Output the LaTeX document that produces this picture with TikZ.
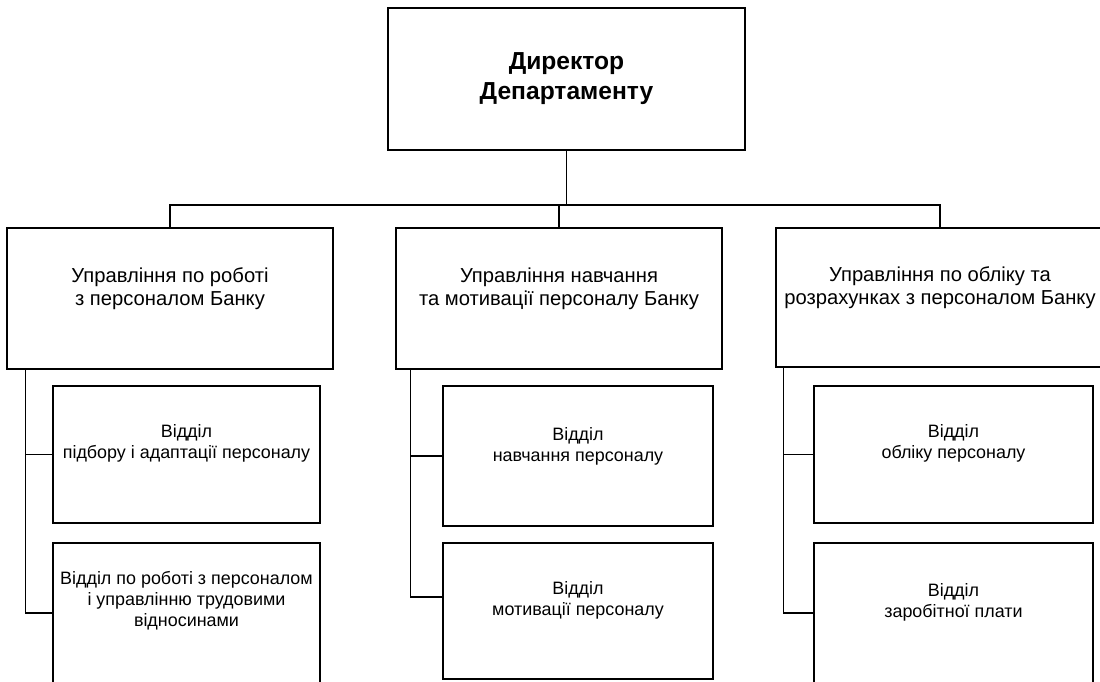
\documentclass[tikz,border=0pt]{standalone}
\usepackage{fontspec}
\setmainfont{Liberation Sans}
\begin{document}
\begin{tikzpicture}[x=0.02cm,y=-0.02cm,
  box/.style={draw,line width=0.75pt,inner sep=0pt},
  big/.style={font=\fontsize{14}{17}\selectfont\bfseries,align=center},
  mid/.style={font=\fontsize{11.5}{13}\selectfont,align=center},
  small/.style={font=\fontsize{10.2}{12}\selectfont,align=center},
  link/.style={line width=0.75pt}]
\useasboundingbox (0,0) rectangle (1100,681);
\clip (0,0) rectangle (1100,681);
% top
\node[box,minimum width=7.14cm,minimum height=2.84cm,big] (dir) at (566.5,79) {Директор\\Департаменту};
% second level
\node[box,minimum width=6.52cm,minimum height=2.82cm] (u1) at (170,298.5) {};
\node[mid] (u1t) at ([yshift=0.2cm]u1.center) {Управління по роботі\\з персоналом Банку};
\node[box,minimum width=6.52cm,minimum height=2.82cm] (u2) at (559,298.5) {};
\node[mid] (u2t) at ([yshift=0.2cm]u2.center) {Управління навчання\\та мотивації персоналу Банку};
\node[box,minimum width=6.56cm,minimum height=2.78cm] (u3) at (940,297.5) {};
\node[mid] (u3t) at ([yshift=0.2cm]u3.center) {Управління по обліку та\\розрахунках з персоналом Банку};
% departments
\node[box,minimum width=5.34cm,minimum height=2.74cm] (c1a) at (186.5,454.5) {};
\node[small] (c1at) at ([yshift=0.22cm]c1a.center) {Відділ\\підбору і адаптації персоналу};
\node[box,minimum width=5.34cm,minimum height=2.8cm] (c1b) at (186.5,613) {};
\node[small] (c1bt) at ([yshift=0.24cm]c1b.center) {Відділ по роботі з персоналом\\і управлінню трудовими\\відносинами};
\node[box,minimum width=5.4cm,minimum height=2.8cm] (c2a) at (578,456) {};
\node[small] (c2at) at ([yshift=0.2cm]c2a.center) {Відділ\\навчання персоналу};
\node[box,minimum width=5.4cm,minimum height=2.72cm] (c2b) at (578,611) {};
\node[small] (c2bt) at ([yshift=0.22cm]c2b.center) {Відділ\\мотивації персоналу};
\node[box,minimum width=5.58cm,minimum height=2.74cm] (c3a) at (953.5,454.5) {};
\node[small] (c3at) at ([yshift=0.22cm]c3a.center) {Відділ\\обліку персоналу};
\node[box,minimum width=5.58cm,minimum height=2.8cm] (c3b) at (953.5,613) {};
\node[small] (c3bt) at ([yshift=0.22cm]c3b.center) {Відділ\\заробітної плати};
% bus
\coordinate (bus) at (0,205);
\draw[link] (dir.south) -- (dir.south |- bus);
\draw[link] (u1.north) |- (u3.north |- bus) -- (u3.north);
\draw[link] (u2.north) -- (u2.north |- bus);
% trunks
\coordinate (t1) at ([xshift=0.38cm]u1.south west);
\coordinate (t2) at ([xshift=0.3cm]u2.south west);
\coordinate (t3) at ([xshift=0.16cm]u3.south west);
\draw[link] (t1) |- (c1b.west);
\draw[link] (c1a.west) -- (c1a.west -| t1);
\draw[link] (t2) |- ([yshift=0.28cm]c2b.west);
\draw[link] (c2a.west) -- (c2a.west -| t2);
\draw[link] (t3) |- (c3b.west);
\draw[link] (c3a.west) -- (c3a.west -| t3);
\end{tikzpicture}
\end{document}
